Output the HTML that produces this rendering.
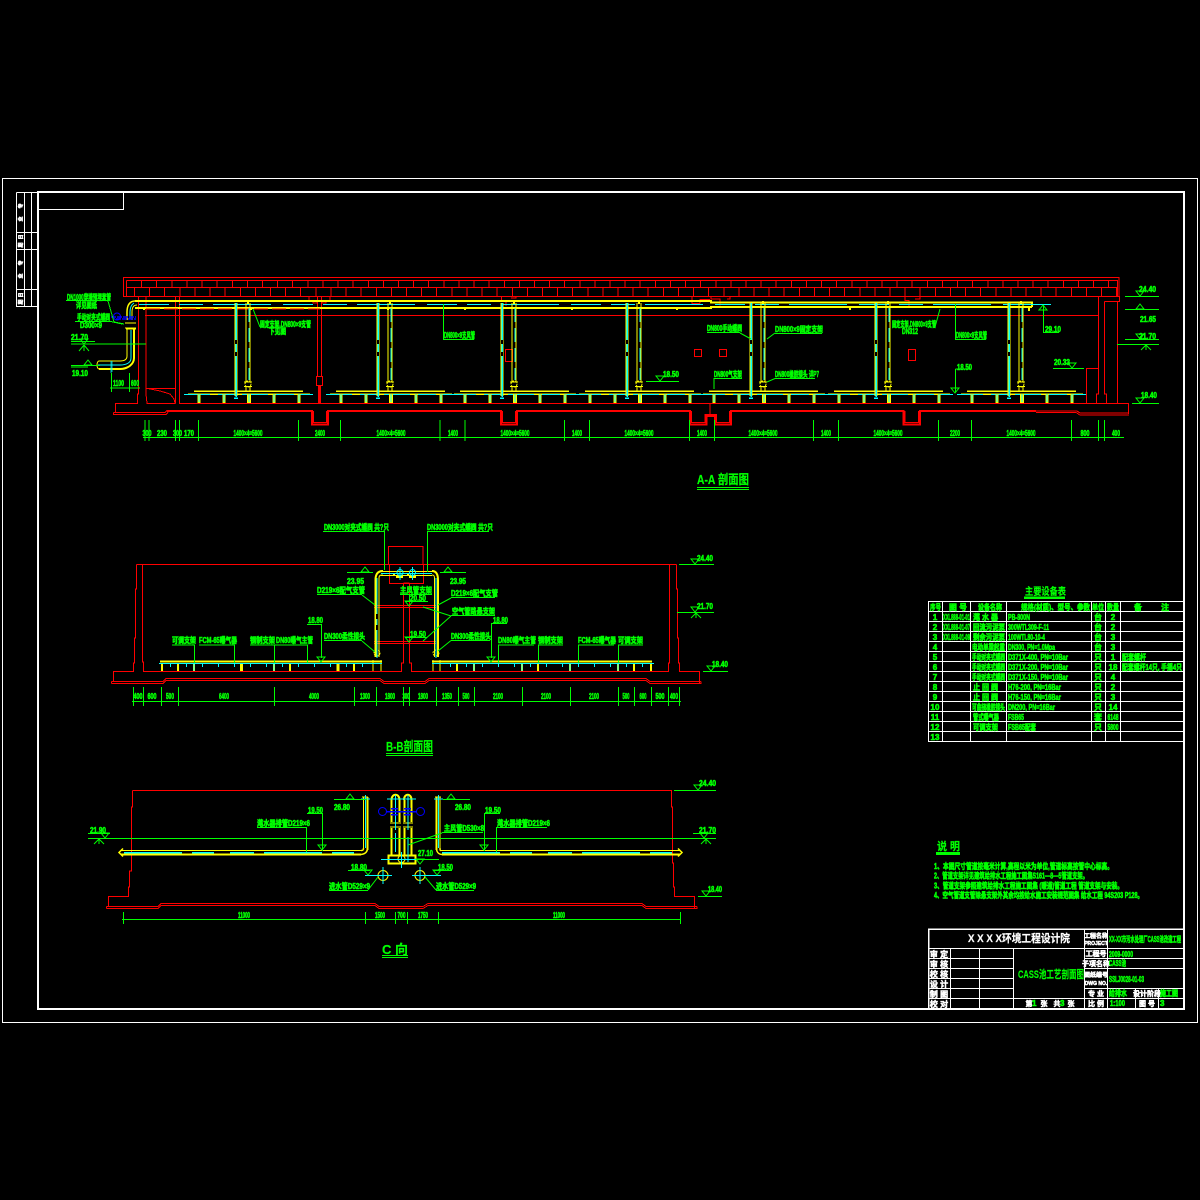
<!DOCTYPE html>
<html><head><meta charset="utf-8"><title>CASS池工艺剖面图</title>
<style>
html,body{margin:0;padding:0;background:#000;width:1200px;height:1200px;overflow:hidden}
svg{display:block}
.l{fill:none;shape-rendering:crispEdges}
.r{stroke:#f00}.y{stroke:#ff0}.c{stroke:#0ff}.g{stroke:#0f0}.w{stroke:#fff}.b{stroke:#00f}
.a{fill:none}
text{font-family:"Liberation Sans","Noto Sans CJK SC",sans-serif;font-weight:700}
.t text{fill:#0f0;stroke:#0f0;stroke-width:.6;font-size:8px}
.m text{text-anchor:middle}
.wt text{fill:#fff;stroke:#fff;stroke-width:.5;font-size:7px;text-anchor:middle}
</style></head><body>
<svg width="1200" height="1200" viewBox="0 0 1200 1200" xmlns="http://www.w3.org/2000/svg">
<defs>
<path id="td" d="M-4-5H4L0 0Z" fill="none" stroke="#0f0"/>
<path id="tu" d="M-4 0H4L0-5Z" fill="none" stroke="#0f0"/>
<g id="bay">
<path class="l y" stroke-width="1.5" d="M0 391H109M-6 394.3H116"/>
<path class="l c" d="M-10 394.5H119" stroke-dasharray="26 8 18 6"/>
<g class="l">
<path class="y" stroke-width="3" d="M5 394V403M30 394V403M80 394V403M105 394V403"/>
<path class="y" stroke-width="4" d="M55 394V403"/>
<path class="c" d="M5 394V402M30 394V402M55 394V402M80 394V402M105 394V402"/>
<path class="y" stroke-width="3" d="M42 303V396"/>
<path class="c" stroke-width="1.5" d="M42 303V397M40 398H44"/>
<path class="y" d="M52 303V382M56 303V382M52 387V391M56 387V391"/>
<path class="y" stroke-width="2" d="M54 301V304"/>
<path class="c" d="M55 308V380" stroke-dasharray="14 6"/>
</g>
<circle cx="54" cy="384" r="3" fill="none" stroke="#ff0" stroke-dasharray="2 1"/>
<path class="l y" d="M50 382H58M50 386.500H58"/>
<path class="l" stroke="#000" stroke-width="2" d="M42 340V344M42 352V356"/>
</g>
</defs>

<!-- frame -->
<g class="l w">
<rect x="2.500" y="178.500" width="1195" height="844"/>
<rect x="38" y="192" width="1146" height="817" stroke-width="2"/>
<path d="M38 209.500H123.500V192"/>
<path d="M16.500 192.500H38M16.500 192.500V306.500H38M24.500 192.500V306.500M31.500 192.500V306.500M16.500 232.500H38M16.500 249.500H38M16.500 289.500H38"/>
</g>
<g class="wt">
<text transform="translate(22.500,206) rotate(-90)" style="font-size:5px">专</text>
<text transform="translate(22.500,219) rotate(-90)" style="font-size:5px">业</text>
<text transform="translate(22.500,237) rotate(-90)" style="font-size:5px">日</text>
<text transform="translate(22.500,245) rotate(-90)" style="font-size:5px">期</text>
<text transform="translate(22.500,263) rotate(-90)" style="font-size:5px">专</text>
<text transform="translate(22.500,276) rotate(-90)" style="font-size:5px">业</text>
<text transform="translate(22.500,295) rotate(-90)" style="font-size:5px">日</text>
<text transform="translate(22.500,302) rotate(-90)" style="font-size:5px">期</text>
</g>

<!-- A-A roof -->
<g class="l r">
<rect x="123.500" y="277.500" width="995.500" height="19"/>
<path d="M126.500 280.500H1117.500V296M126.500 280.500V296M126.500 287.500H1117.500"/>
<path d="M126 284H1117" stroke-width="7" stroke-dasharray="1 14.110"/>
<path d="M134 292H1117" stroke-width="8" stroke-dasharray="1 14.110"/>
<!-- structure -->
<path d="M145 315.500H1098"/>
<path d="M138.500 296V394H137.500V403.500H115.500V412"/>
<path d="M146 296V388.500M146 388.500V394L147 403.500H175.500M146 388.500H175.500M175.500 297V403.500M179.500 297V403.500H1128.500V414"/>
<path d="M148 388.500L160 391 170 394 174 399 175 403" />
<path d="M317.500 297V376M321.500 297V376"/>
<rect x="316.500" y="376.500" width="6" height="9"/>
<path d="M319.500 385V403" stroke-width="3"/>
<path d="M309 296V300.500H313V303H317V300.500H322V303H326V300.500H330V296"/>
<path d="M501.500 296V300.500H506V306M516 296V298H511"/>
<path d="M692 296V303.500H700M700 303.500V299.500H710M711 296V299H720V305.500M730 296V299H727"/>
<path d="M905 296V300.500H909V306M920 296V299H915"/>
<path d="M1098.500 296V394H1096.500V403M1104.500 301.500V394H1106.500V403M1117.500 301.500V403M1104.500 301.500H1119.500V296"/>
<path d="M1086.500 403V368.500H1098"/>
<rect x="505.500" y="349.500" width="7" height="12"/>
<rect x="694.500" y="349.500" width="7" height="7"/>
<rect x="719.500" y="349.500" width="7" height="7"/>
<rect x="908.500" y="349.500" width="7" height="11"/>
<!-- floor -->
<path d="M113.500 412.500H165L167 410.500M113.500 412.500V414.500H166L168 412.500" />
<path stroke-width="2" d="M167 411H312V424.500H328V411H501V424.500H517V411H690V424.500H706.500V416H715V424.500H731V411H903.500V424.500H920V411H1036"/>
<path d="M313.500 411V422.500H326.500V411M502.500 411V422.500H515.500V411M691.500 411V422.500H705V414.500H716.500V422.500H729.500V411M905 411V422.500H918.500V411M710 403.500V414.500"/>
<path d="M1036 412.500H1076L1080 415H1129M1036 411H1077L1080 413H1129"/>
</g>

<!-- A-A main pipes -->
<g class="l">
<path class="y" stroke-width="2" d="M135 301H711V302.500H1032V307M135 308H711V307H1032"/>
<path class="c" d="M139 304.500H1050" stroke-dasharray="30 10 24 10 58 12"/>
<path class="r" stroke-width="1" d="M146 309H320" stroke-dasharray="14 4"/>
<path class="y" stroke-width="2" d="M144 307.500V310M251 307V310M388 307V310M465 307V310M572 307V310M677 307V310M850 307V310M1029 307V311"/>
<path class="c" d="M1028 304.500H1051"/>
</g>
<use href="#bay" x="194"/><use href="#bay" x="336"/><use href="#bay" x="460"/><use href="#bay" x="585"/><use href="#bay" x="709"/><use href="#bay" x="834"/><use href="#bay" x="967"/>

<!-- inlet pipe -->
<g class="a" stroke-linejoin="round">
<path d="M135 301C130 301 127 305 127 312V320" stroke="#ff0" stroke-width="1.500"/>
<path d="M137 305C133 305 132 308 132 312V320" stroke="#ff0" stroke-width="1"/>
<path d="M134 303C131 305 130 308 130 312V319" stroke="#0ff"/>
<path d="M127 329V356C127 360 124 361 120 361H99" stroke="#ff0" stroke-width="1"/>
<path d="M134 329V358C134 364 128 369 120 369H99" stroke="#ff0" stroke-width="2"/>
<path d="M131 330V358C131 363 126 365 120 365H98" stroke="#0ff"/>
<path d="M97 365A2 4 0 0 0 99 369M97 365A2 4 0 0 1 99 361" stroke="#ff0"/>
<path d="M125 323H136M125 328H136M126 329H136" stroke="#ff0"/>
<path d="M111 317H136M116 319H136" stroke="#00f" stroke-width="1.500" stroke-dasharray="5 1"/>
<circle cx="117" cy="316.500" r="3.500" stroke="#00f"/>
<path d="M112 361V372M111 361V373" stroke="#0ff" stroke-width=".7"/>
</g>

<!-- A-A green -->
<g class="l g">
<path d="M110 388H140M111.500 373V392M129.500 373V392"/>
<path d="M71 344H146M71 341.500H95M71 365.500H100M71 367H88"/>
<path d="M66 300.500H108M75 321.500H111"/>
<path d="M108 301L114 322L124 324M111 321.500L122 324"/>
<path d="M143 437.500H1124"/>
<path d="M145 420V441M149 420V441M175.500 420V441M179.500 420V441M198.500 420V441M298.500 420V441M340.500 420V441M440 420V441M465 420V441M564.500 420V441M589.500 420V441M689.500 420V441M714.500 420V441M813.500 420V441M838.500 420V441M938.500 420V441M971.500 420V441M1071.500 420V441M1098.500 420V441M1104.500 420V441"/>
<path d="M443.500 304V339.500H474"/>
<path d="M707 332.500H740M775 333.500H822M646 381.500H679M714 389V378.500H742M775 378.500H815M955.500 304V339.500H986M955.500 369H971M955.500 369V392M1043.500 305V332.500H1059M1053 368.500H1084"/>
<path d="M1125 296.500H1159M1125 309.500H1159M1125 339.500H1159M1117 344.500H1159M1132 403.500H1159"/>
</g>
<g class="a" stroke="#0f0">
<path d="M253 309L260 327"/><path d="M740 333L751 339"/><path d="M775 333L767 339"/><path d="M775 378.500L767 382"/><path d="M940 309L935 327"/>
<path d="M84 345L79 351M84 345L89 351M84 345V351"/><path d="M1146 345L1141 350M1146 345L1151 350M1146 345V350"/>
</g>
<use href="#td" x="84" y="344"/><use href="#tu" x="88" y="365"/><use href="#td" x="660" y="381"/><use href="#td" x="955" y="393"/><use href="#tu" x="1043" y="310"/><use href="#td" x="1072" y="368"/><use href="#td" x="1140" y="296"/><use href="#tu" x="1140" y="309"/><use href="#td" x="1140" y="339"/><use href="#td" x="1140" y="403"/>
<g class="t">
<text x="67" y="300" textLength="44" lengthAdjust="spacingAndGlyphs">DN1000穿墙预埋套管</text>
<text x="76" y="308" textLength="21" lengthAdjust="spacingAndGlyphs">详见图纸</text>
<text x="77" y="320" textLength="33" lengthAdjust="spacingAndGlyphs">手动对夹式蝶阀</text>
<text x="80" y="328" textLength="22" lengthAdjust="spacingAndGlyphs">D300×9</text>
<text x="71" y="340" textLength="17" lengthAdjust="spacingAndGlyphs">21.70</text>
<text x="72" y="376" textLength="16" lengthAdjust="spacingAndGlyphs">19.10</text>
<text x="113" y="386" textLength="11" lengthAdjust="spacingAndGlyphs">1100</text>
<text x="131" y="386" textLength="8" lengthAdjust="spacingAndGlyphs">600</text>
<text x="260" y="327" textLength="51" lengthAdjust="spacingAndGlyphs">固定支架,DN800×9支管</text>
<text x="269" y="334" textLength="17" lengthAdjust="spacingAndGlyphs">下见图</text>
<text x="444" y="338" textLength="31" lengthAdjust="spacingAndGlyphs">DN800×9支风管</text>
<text x="707" y="331" textLength="35" lengthAdjust="spacingAndGlyphs">DN800手动蝶阀</text>
<text x="775" y="332" textLength="48" lengthAdjust="spacingAndGlyphs">DN800×9固定支架</text>
<text x="663" y="377" textLength="16" lengthAdjust="spacingAndGlyphs">18.50</text>
<text x="714" y="377" textLength="28" lengthAdjust="spacingAndGlyphs">DN800气支架</text>
<text x="775" y="377" textLength="44" lengthAdjust="spacingAndGlyphs">DN800橡胶接头 详P7</text>
<text x="892" y="327" textLength="44" lengthAdjust="spacingAndGlyphs">固定支架,DN800×9支管</text>
<text x="902" y="334" textLength="16" lengthAdjust="spacingAndGlyphs">DN312</text>
<text x="956" y="338" textLength="31" lengthAdjust="spacingAndGlyphs">DN800×9支风管</text>
<text x="957" y="370" textLength="15" lengthAdjust="spacingAndGlyphs">18.50</text>
<text x="1045" y="332" textLength="16" lengthAdjust="spacingAndGlyphs">29.10</text>
<text x="1054" y="365" textLength="16" lengthAdjust="spacingAndGlyphs">20.33</text>
<text x="1139" y="292" textLength="17" lengthAdjust="spacingAndGlyphs">24.40</text>
<text x="1140" y="322" textLength="16" lengthAdjust="spacingAndGlyphs">21.65</text>
<text x="1139" y="339" textLength="17" lengthAdjust="spacingAndGlyphs">21.70</text>
<text x="1141" y="398" textLength="16" lengthAdjust="spacingAndGlyphs">18.40</text>
</g>
<g class="t m">
<text x="147" y="436" textLength="9" lengthAdjust="spacingAndGlyphs">300</text>
<text x="162" y="436" textLength="10" lengthAdjust="spacingAndGlyphs">230</text>
<text x="177.500" y="436" textLength="9" lengthAdjust="spacingAndGlyphs">300</text>
<text x="189" y="436" textLength="10" lengthAdjust="spacingAndGlyphs">170</text>
<text x="248" y="436" textLength="29" lengthAdjust="spacingAndGlyphs">1400×4=5600</text>
<text x="320" y="436" textLength="10" lengthAdjust="spacingAndGlyphs">2400</text>
<text x="391" y="436" textLength="29" lengthAdjust="spacingAndGlyphs">1400×4=5600</text>
<text x="453" y="436" textLength="10" lengthAdjust="spacingAndGlyphs">1400</text>
<text x="515" y="436" textLength="29" lengthAdjust="spacingAndGlyphs">1400×4=5600</text>
<text x="577" y="436" textLength="10" lengthAdjust="spacingAndGlyphs">1400</text>
<text x="639" y="436" textLength="29" lengthAdjust="spacingAndGlyphs">1400×4=5600</text>
<text x="702" y="436" textLength="10" lengthAdjust="spacingAndGlyphs">1400</text>
<text x="763" y="436" textLength="29" lengthAdjust="spacingAndGlyphs">1400×4=5600</text>
<text x="826" y="436" textLength="10" lengthAdjust="spacingAndGlyphs">1400</text>
<text x="888" y="436" textLength="29" lengthAdjust="spacingAndGlyphs">1400×4=5600</text>
<text x="955" y="436" textLength="10" lengthAdjust="spacingAndGlyphs">2200</text>
<text x="1021" y="436" textLength="29" lengthAdjust="spacingAndGlyphs">1400×4=5600</text>
<text x="1085" y="436" textLength="9" lengthAdjust="spacingAndGlyphs">800</text>
<text x="1116" y="436" textLength="8" lengthAdjust="spacingAndGlyphs">400</text>
</g>
<g class="t">
<text x="697" y="484" style="font-size:13px;stroke-width:.2" textLength="52" lengthAdjust="spacingAndGlyphs">A-A 剖面图</text>
<text x="386" y="751" style="font-size:13px;stroke-width:.2" textLength="47" lengthAdjust="spacingAndGlyphs">B-B剖面图</text>
<text x="382" y="954" style="font-size:13px;stroke-width:.2" textLength="26" lengthAdjust="spacingAndGlyphs">C 向</text>
</g>
<path class="l g" d="M697 487.500H749M697 489.500H749M386 753.500H433M386 755.500H433M382 955.500H408M382 957.500H408"/>

<!-- B-B structure -->
<g class="l r">
<path d="M136.500 564.500H676.500M136.500 564.500V589H135.500V638H134.500V663H133.500V671.500H113.500V681"/>
<path d="M142.500 564.500V662H143.500V671.500H401.500V663H403.500V583M409.500 583V663H411.500V671.500H668.500V663H669.500V564.500M676.500 564.500V589H677.500V638H678.500V663H679.500V671.500H699.500V683"/>
<path d="M111.500 681.500H163L166 678.500H380L384 681.500H425L429 678.500H646L650 681.500H701M111.500 683.500H163L166 680.500H380L384 683.500H425L429 680.500H646L650 683.500H701V681.500M111.500 681.500V683.500"/>
<path d="M388.500 565V546.500H423V565M389.500 565V583.500H423.500V565M374 605.500H436M374 607.500H436M374 641.500H436M374 643.500H436M403.500 583H409.500"/>
</g>
<g class="l y">
<path stroke-width="2" d="M375.500 580V657M438 580V657"/>
<path d="M379 578V657M434.500 578V657M381 571.500H432M381 575.500H432"/>
<path stroke-width="2" d="M160 661.500H382M432 661.500H652"/>
<path stroke-width="2" d="M162 663V671M178 663V671M194 663V671M274 663V671M290 663V671M354 663V671M457 663V671M474 663V671M522 663V671M538 663V671M570 663V671M618 663V671M634 663V671M651 663V671"/>
<path stroke-width="3" d="M241.500 663V671M338 663V671"/>
<path d="M373 660V671M381 660V671M433 660V671M440 660V671"/>
<path stroke-width="2" d="M394 573V576M408 573V576M396 577H403M409 577H416"/>
</g>
<g class="a"><path d="M375.500 580C375.500 574 378 571 383 571" stroke="#ff0" stroke-width="2"/><path d="M379 578C379 575 381 575 383 575" stroke="#ff0"/><path d="M432 571C436 571 438 574 438 580" stroke="#ff0" stroke-width="2"/><path d="M432 575C434 575 434.500 576 434.500 578" stroke="#ff0"/>
<circle cx="377" cy="653" r="3" stroke="#ff0" stroke-dasharray="2 1"/><circle cx="436" cy="653" r="3" stroke="#ff0" stroke-dasharray="2 1"/>
<circle cx="400" cy="572.500" r="3" stroke="#0ff"/><circle cx="412.500" cy="572.500" r="3" stroke="#0ff"/></g>
<g class="l c">
<path d="M159 663.500H382M432 663.500H654"/>
<path d="M377 578V658M436 578V658M400 567V580M412.500 567V580M381 573.500H432"/>
<path d="M170.500 663V667M186.500 663V667M202.500 663V667M218.500 663V667M234.500 663V667M250.500 663V667M266.500 663V667M282.500 663V667M298.500 663V667M314.500 663V667M330.500 663V667M346.500 663V667M362.500 663V667M450.500 663V667M466.500 663V667M482.500 663V667M498.500 663V667M514.500 663V667M530.500 663V667M546.500 663V667M562.500 663V667M578.500 663V667M594.500 663V667M610.500 663V667M626.500 663V667M642.500 663V667"/>
<path d="M194 663V671M274 663V671M474 663V671M522 663V671M570 663V671M618 663V671"/>
</g>
<path class="l" stroke="#000" stroke-width="2" d="M377 614V619M377 625V630"/>
<!-- B-B green -->
<g class="l g">
<path d="M323 531.500H384.500V570M427.500 572V531.500H489"/>
<path d="M347 572.500H373M317 594.500H362M307 624.500H321.500V658M324 640.500H362"/>
<path d="M172 645H194.500V663M199 645H234.500V663M250 645H307.500V663M274.500 645V663"/>
<path d="M440 572.500H466M451 597.500H495M451 615.500H495M491.500 658V623.500H507M451 640.500H490"/>
<path d="M498.500 663V645H534M538.500 663V645H563M578.500 663V645H614M618.500 663V645H643"/>
<path d="M400 594.500H432M405 601.500H428M405 637.500H427M409.500 594V602"/>
<path d="M679 564.500H714M677 612.500H714M703 671.500H728"/>
<path d="M132 701.500H681M133.500 687V706M143.500 687V706M161.500 687V706M178.500 687V706M274.500 687V706M354.500 687V706M376.500 687V706M403.500 687V706M409.500 687V706M436.500 687V706M458.500 687V706M474.500 687V706M522.500 687V706M570.500 687V706M618.500 687V706M634.500 687V706M651.500 687V706M668.500 687V706M679.500 687V706"/>
</g>
<g class="a" stroke="#0f0"><path d="M362 595L375 605M362 641L375 652M451 598L438 605M451 616L423 641M451 616L423 607M451 640.500L438 651M696 613L691 618M696 613L701 618M696 613V618"/></g>
<use href="#tu" x="365" y="572"/><use href="#td" x="321" y="662"/><use href="#tu" x="448" y="572"/><use href="#td" x="491" y="662"/><use href="#td" x="409" y="606"/><use href="#td" x="409" y="642"/><use href="#td" x="695" y="564"/><use href="#td" x="695" y="612"/><use href="#td" x="711" y="671"/>
<g class="t">
<text x="324" y="530" textLength="65" lengthAdjust="spacingAndGlyphs">DN3000对夹式蝶阀 共?只</text>
<text x="427" y="530" textLength="66" lengthAdjust="spacingAndGlyphs">DN3000对夹式蝶阀 共?只</text>
<text x="347" y="584" textLength="17" lengthAdjust="spacingAndGlyphs">23.95</text>
<text x="317" y="593" textLength="48" lengthAdjust="spacingAndGlyphs">D219×6配气支管</text>
<text x="308" y="623" textLength="15" lengthAdjust="spacingAndGlyphs">18.80</text>
<text x="324" y="639" textLength="41" lengthAdjust="spacingAndGlyphs">DN300柔性接头</text>
<text x="172" y="643" textLength="24" lengthAdjust="spacingAndGlyphs">可调支架</text>
<text x="199" y="643" textLength="38" lengthAdjust="spacingAndGlyphs">FCM-65曝气器</text>
<text x="250" y="643" textLength="25" lengthAdjust="spacingAndGlyphs">钢制支架</text>
<text x="276" y="643" textLength="37" lengthAdjust="spacingAndGlyphs">DN80曝气主管</text>
<text x="450" y="584" textLength="16" lengthAdjust="spacingAndGlyphs">23.95</text>
<text x="451" y="596" textLength="47" lengthAdjust="spacingAndGlyphs">D219×6配气支管</text>
<text x="452" y="614" textLength="43" lengthAdjust="spacingAndGlyphs">空气管路悬支架</text>
<text x="493" y="623" textLength="15" lengthAdjust="spacingAndGlyphs">18.80</text>
<text x="451" y="639" textLength="40" lengthAdjust="spacingAndGlyphs">DN300柔性接头</text>
<text x="498" y="643" textLength="38" lengthAdjust="spacingAndGlyphs">DN80曝气主管</text>
<text x="538" y="643" textLength="25" lengthAdjust="spacingAndGlyphs">钢制支架</text>
<text x="578" y="643" textLength="38" lengthAdjust="spacingAndGlyphs">FCM-65曝气器</text>
<text x="618" y="643" textLength="25" lengthAdjust="spacingAndGlyphs">可调支架</text>
<text x="400" y="593" textLength="32" lengthAdjust="spacingAndGlyphs">主风管支架</text>
<text x="410" y="601" textLength="16" lengthAdjust="spacingAndGlyphs">20.50</text>
<text x="410" y="637" textLength="16" lengthAdjust="spacingAndGlyphs">19.50</text>
<text x="697" y="561" textLength="16" lengthAdjust="spacingAndGlyphs">24.40</text>
<text x="697" y="609" textLength="16" lengthAdjust="spacingAndGlyphs">21.70</text>
<text x="712" y="667" textLength="16" lengthAdjust="spacingAndGlyphs">18.40</text>
</g>
<g class="t m">
<text x="138" y="699" textLength="9" lengthAdjust="spacingAndGlyphs">400</text>
<text x="152" y="699" textLength="9" lengthAdjust="spacingAndGlyphs">600</text>
<text x="170" y="699" textLength="8" lengthAdjust="spacingAndGlyphs">500</text>
<text x="224" y="699" textLength="10" lengthAdjust="spacingAndGlyphs">6400</text>
<text x="314" y="699" textLength="10" lengthAdjust="spacingAndGlyphs">4000</text>
<text x="365" y="699" textLength="10" lengthAdjust="spacingAndGlyphs">1300</text>
<text x="390" y="699" textLength="10" lengthAdjust="spacingAndGlyphs">1800</text>
<text x="406" y="699" textLength="7" lengthAdjust="spacingAndGlyphs">300</text>
<text x="423" y="699" textLength="10" lengthAdjust="spacingAndGlyphs">1800</text>
<text x="447" y="699" textLength="10" lengthAdjust="spacingAndGlyphs">1350</text>
<text x="466" y="699" textLength="7" lengthAdjust="spacingAndGlyphs">500</text>
<text x="498" y="699" textLength="10" lengthAdjust="spacingAndGlyphs">2100</text>
<text x="546" y="699" textLength="10" lengthAdjust="spacingAndGlyphs">2100</text>
<text x="594" y="699" textLength="10" lengthAdjust="spacingAndGlyphs">2100</text>
<text x="626" y="699" textLength="7" lengthAdjust="spacingAndGlyphs">500</text>
<text x="643" y="699" textLength="7" lengthAdjust="spacingAndGlyphs">600</text>
<text x="660" y="699" textLength="9" lengthAdjust="spacingAndGlyphs">500</text>
<text x="674" y="699" textLength="8" lengthAdjust="spacingAndGlyphs">400</text>
</g>

<!-- C structure -->
<g class="l r">
<path d="M132.500 790.500H671.500V807H672.500V863H673.500V887H674.500V896.500H694.500V908.500"/>
<path d="M132.500 790.500V807H131.500V871H129.500V887H128.500V896.500H108.500V907"/>
<path d="M106.500 906.500H158L161 903.500H375L379 906.500H423L428 903.500H642L646 906.500H697M106.500 908.500H158L161 905.500H375L379 908.500H423L428 905.500H642L646 908.500H697V906.500M106.500 906.500V908.500"/>
</g>
<g class="l y">
<path stroke-width="2" d="M121 854.500H361M442 854.500H680"/>
<path d="M121 850.500H361M441 850.500H680"/>
<path stroke-width="2" d="M367.500 797V850M436.500 797V850M391.500 800V822M399.500 800V822M404.500 800V822M411.500 800V822M391.500 828V856M399.500 828V856M404.500 828V856M411.500 828V856"/>
<path d="M363.500 797V848M440 797V848M362 797H368M435 797H441M390 823H401M403 823H413M390 827H401M403 827H413"/>
<rect x="388.500" y="855.500" width="27" height="8" stroke-width="2"/>
</g>
<g class="a" stroke="#ff0">
<path d="M361 854.500C365 854 367.500 852 367.500 848M361 850.500C363 850.500 363.500 850 363.500 848M442 854.500C438 854 436.500 852 436.500 848M441 850.500C440 850.500 440 850 440 848" stroke-width="1.500"/>
<path d="M391.500 800C391.500 793 399.500 793 399.500 800M404 800C404 793 411.500 793 411.500 800" stroke-width="2"/>
<circle cx="383" cy="875.500" r="5"/><circle cx="420" cy="875.500" r="5"/><circle cx="401.500" cy="859" r="3.500"/>
<path d="M123 848.500L119 852.500 123 856.500M678 848.500L682 852.500 678 856.500" stroke-width="1.500"/>
</g>
<g class="l c">
<path d="M124 852.500H361M442 852.500H678" stroke-dasharray="58 10 22 16 24 10" stroke-width="1.500"/>
<path d="M365.500 795V848M438.500 795V848M361 799H370M434 799H443"/>
<path d="M387 799H402M401 799H416M395.500 795V830M408 795V830M395.500 833V852M408 837V862M381 859.500H423M401.500 852V868"/>
<path d="M365 875.500H392M383 867V884M412 875.500H441M420 867V884"/>
</g>
<g class="l b" stroke-width="1.500">
<path d="M386 811.500H417M391 808.500H398M404 808.500H411M391 814.500H398M404 814.500H411"/>
</g>
<g class="a" stroke="#00f"><circle cx="382.500" cy="811.500" r="4"/><circle cx="420.500" cy="811.500" r="4"/></g>
<g class="l g">
<path d="M88 838.500H716"/>
<path d="M88 833.500H110M334 799.500H367M307 813.500H322.500V851M257 827.500H306.500V852M348 870.500H370M329 890.500H368"/>
<path d="M443 799.500H470M484.500 851V813.500H500M496.500 852V827.500H547M442 832.500H483M416 859.500H439M433 870.500H452M436 890.500H474"/>
<path d="M674 790.500H716M693 833.500H716M698 896.500H722"/>
<path d="M122 919.500H681M123.500 912V924M365.500 912V924M395.500 912V924M407.500 912V924M438.500 912V924M680.500 912V924"/>
</g>
<g class="a" stroke="#0f0"><path d="M368 890L378 877M436 890L425 877M442 833L408 845M99 839L94 844M99 839L104 844M99 839V844M706 839L701 844M706 839L711 844M706 839V844"/></g>
<use href="#td" x="105" y="838"/><use href="#tu" x="350" y="799"/><use href="#td" x="322" y="850"/><use href="#td" x="368" y="875"/><use href="#tu" x="451" y="799"/><use href="#td" x="484" y="850"/><use href="#td" x="420" y="864"/><use href="#td" x="437" y="875"/><use href="#td" x="698" y="790"/><use href="#td" x="704" y="838"/><use href="#td" x="706" y="896"/>
<g class="t">
<text x="90" y="833" textLength="16" lengthAdjust="spacingAndGlyphs">21.90</text>
<text x="334" y="810" textLength="16" lengthAdjust="spacingAndGlyphs">26.80</text>
<text x="308" y="813" textLength="15" lengthAdjust="spacingAndGlyphs">19.50</text>
<text x="257" y="826" textLength="53" lengthAdjust="spacingAndGlyphs">滗水器排管D219×6</text>
<text x="351" y="870" textLength="16" lengthAdjust="spacingAndGlyphs">18.80</text>
<text x="329" y="889" textLength="41" lengthAdjust="spacingAndGlyphs">进水管D529×9</text>
<text x="455" y="810" textLength="16" lengthAdjust="spacingAndGlyphs">26.80</text>
<text x="485" y="813" textLength="16" lengthAdjust="spacingAndGlyphs">19.50</text>
<text x="497" y="826" textLength="53" lengthAdjust="spacingAndGlyphs">滗水器排管D219×6</text>
<text x="444" y="831" textLength="40" lengthAdjust="spacingAndGlyphs">主风管D530×8</text>
<text x="418" y="856" textLength="15" lengthAdjust="spacingAndGlyphs">27.10</text>
<text x="438" y="870" textLength="15" lengthAdjust="spacingAndGlyphs">18.50</text>
<text x="436" y="889" textLength="40" lengthAdjust="spacingAndGlyphs">进水管D529×9</text>
<text x="699" y="786" textLength="17" lengthAdjust="spacingAndGlyphs">24.40</text>
<text x="699" y="833" textLength="17" lengthAdjust="spacingAndGlyphs">21.70</text>
<text x="708" y="892" textLength="14" lengthAdjust="spacingAndGlyphs">18.40</text>
</g>
<g class="t m">
<text x="244" y="918" textLength="12" lengthAdjust="spacingAndGlyphs">11000</text>
<text x="380" y="918" textLength="10" lengthAdjust="spacingAndGlyphs">1500</text>
<text x="401.500" y="918" textLength="8" lengthAdjust="spacingAndGlyphs">700</text>
<text x="423" y="918" textLength="10" lengthAdjust="spacingAndGlyphs">1750</text>
<text x="559" y="918" textLength="12" lengthAdjust="spacingAndGlyphs">11000</text>
</g>

<!-- table -->
<g class="l w">
<rect x="928.500" y="601.500" width="255" height="140"/>
<path d="M942.500 601.500V741.500M970.500 601.500V741.500M1006.500 601.500V741.500M1091.500 601.500V741.500M1105.500 601.500V741.500M1120.500 601.500V741.500"/>
<path d="M928.500 611.500H1183M928.500 621.500H1183M928.500 631.500H1183M928.500 641.500H1183M928.500 651.500H1183M928.500 661.500H1183M928.500 671.500H1183M928.500 681.500H1183M928.500 691.500H1183M928.500 701.500H1183M928.500 711.500H1183M928.500 721.500H1183M928.500 731.500H1183"/>
</g>
<path class="l g" stroke-width="2.500" d="M1024 597.500H1065"/>
<g class="t">
<text x="1025" y="595" style="font-size:10px;stroke-width:.2" textLength="41" lengthAdjust="spacingAndGlyphs">主要设备表</text>
<text x="930" y="610" textLength="11" lengthAdjust="spacingAndGlyphs">序号</text><text x="949" y="610" textLength="18" lengthAdjust="spacingAndGlyphs">图 号</text><text x="978" y="610" textLength="24" lengthAdjust="spacingAndGlyphs">设备名称</text><text x="1021" y="610" textLength="69" lengthAdjust="spacingAndGlyphs">规格(材质)、型号、参数</text><text x="1092" y="610" textLength="12" lengthAdjust="spacingAndGlyphs">单位</text><text x="1107" y="610" textLength="12" lengthAdjust="spacingAndGlyphs">数量</text><text x="1134" y="610">备</text><text x="1161" y="610">注</text>
<text x="943" y="620" textLength="27" lengthAdjust="spacingAndGlyphs">XXL888-01-01</text><text x="973" y="620" textLength="25" lengthAdjust="spacingAndGlyphs">滗 水 器</text><text x="1008" y="620" textLength="22" lengthAdjust="spacingAndGlyphs">PB-800N</text>
<text x="943" y="630" textLength="27" lengthAdjust="spacingAndGlyphs">XXL888-01-07</text><text x="973" y="630" textLength="32" lengthAdjust="spacingAndGlyphs">回流污泥泵</text><text x="1008" y="630" textLength="41" lengthAdjust="spacingAndGlyphs">300WTL309-F-11</text>
<text x="943" y="640" textLength="27" lengthAdjust="spacingAndGlyphs">XXL888-01-09</text><text x="973" y="640" textLength="32" lengthAdjust="spacingAndGlyphs">剩余污泥泵</text><text x="1008" y="640" textLength="37" lengthAdjust="spacingAndGlyphs">100WTL80-10-4</text>
<text x="972" y="650" textLength="33" lengthAdjust="spacingAndGlyphs">电动单梁起重</text><text x="1008" y="650" textLength="47" lengthAdjust="spacingAndGlyphs">DN300, PN=1.0Mpa</text>
<text x="972" y="660" textLength="33" lengthAdjust="spacingAndGlyphs">手动对夹式蝶阀</text><text x="1008" y="660" textLength="60" lengthAdjust="spacingAndGlyphs">D371X-400, PN=10Bar</text>
<text x="972" y="670" textLength="33" lengthAdjust="spacingAndGlyphs">手动对夹式蝶阀</text><text x="1008" y="670" textLength="60" lengthAdjust="spacingAndGlyphs">D371X-200, PN=10Bar</text>
<text x="972" y="680" textLength="33" lengthAdjust="spacingAndGlyphs">手动对夹式蝶阀</text><text x="1008" y="680" textLength="60" lengthAdjust="spacingAndGlyphs">D371X-150, PN=10Bar</text>
<text x="973" y="690" textLength="25" lengthAdjust="spacingAndGlyphs">止 回 阀</text><text x="1008" y="690" textLength="53" lengthAdjust="spacingAndGlyphs">H76-200, PN=16Bar</text>
<text x="973" y="700" textLength="25" lengthAdjust="spacingAndGlyphs">止 回 阀</text><text x="1008" y="700" textLength="53" lengthAdjust="spacingAndGlyphs">H76-150, PN=16Bar</text>
<text x="972" y="710" textLength="33" lengthAdjust="spacingAndGlyphs">可曲挠橡胶接头</text><text x="1008" y="710" textLength="47" lengthAdjust="spacingAndGlyphs">DN200, PN=16Bar</text>
<text x="973" y="720" textLength="26" lengthAdjust="spacingAndGlyphs">管式曝气器</text><text x="1008" y="720" textLength="16" lengthAdjust="spacingAndGlyphs">FSB65</text>
<text x="973" y="730" textLength="25" lengthAdjust="spacingAndGlyphs">可调支架</text><text x="1008" y="730" textLength="28" lengthAdjust="spacingAndGlyphs">FSB65配套</text>
<text x="1122" y="660" textLength="24" lengthAdjust="spacingAndGlyphs">配套螺杆</text>
<text x="1122" y="670" textLength="60" lengthAdjust="spacingAndGlyphs">配套螺杆14只, 手摇4只</text>
</g>
<g class="t m">
<text x="935" y="620">1</text><text x="935" y="630">2</text><text x="935" y="640">3</text><text x="935" y="650">4</text><text x="935" y="660">5</text><text x="935" y="670">6</text><text x="935" y="680">7</text><text x="935" y="690">8</text><text x="935" y="700">9</text><text x="935" y="710">10</text><text x="935" y="720">11</text><text x="935" y="730">12</text><text x="935" y="740">13</text>
<text x="1098" y="620">台</text><text x="1098" y="630">台</text><text x="1098" y="640">台</text><text x="1098" y="650">台</text><text x="1098" y="660">只</text><text x="1098" y="670">只</text><text x="1098" y="680">只</text><text x="1098" y="690">只</text><text x="1098" y="700">只</text><text x="1098" y="710">只</text><text x="1098" y="720">套</text><text x="1098" y="730">只</text>
<text x="1113" y="620">2</text><text x="1113" y="630">2</text><text x="1113" y="640">3</text><text x="1113" y="650">3</text><text x="1113" y="660">1</text><text x="1113" y="670">18</text><text x="1113" y="680">4</text><text x="1113" y="690">2</text><text x="1113" y="700">3</text><text x="1113" y="710">14</text><text x="1113" y="720" textLength="11" lengthAdjust="spacingAndGlyphs">6148</text><text x="1113" y="730" textLength="11" lengthAdjust="spacingAndGlyphs">5800</text>
</g>

<!-- notes -->
<path class="l g" stroke-width="3" d="M936 853.500H960"/>
<g class="t">
<text x="937" y="850" style="font-size:11px;stroke-width:.2" textLength="23" lengthAdjust="spacingAndGlyphs">说 明</text>
<text x="934" y="869" textLength="179" lengthAdjust="spacingAndGlyphs">1、本图尺寸管道按毫米计算,高程以米为单位,管道标高按管中心标高。</text>
<text x="934" y="878.500" textLength="154" lengthAdjust="spacingAndGlyphs">2、管道支架详见建筑给排水工程施工图集S161—8—5管道支架。</text>
<text x="934" y="888.500" textLength="189" lengthAdjust="spacingAndGlyphs">3、管道支架参照建筑给排水工程施工图集 (暖通)管道工程 管道支架与安装。</text>
<text x="934" y="898" textLength="209" lengthAdjust="spacingAndGlyphs">4、空气管道支管除悬支架外其余均按给水施工安装规范图集 给水工程 94S203 P128。</text>
</g>

<!-- title block -->
<g class="l w">
<rect x="928.500" y="929" width="255" height="79.500" stroke-width="1.500"/>
<path d="M928.500 948.500H1183M1084.500 929V1008.500M1107.500 929V1008.500"/>
<path d="M928.500 958.500H1014M928.500 968.500H1014M928.500 978.500H1014M928.500 988.500H1014M928.500 998.500H1084.500"/>
<path d="M950.500 948.500V1008.500M979.500 948.500V1008.500M1013.500 948.500V1008.500"/>
<path d="M1084.500 958.500H1183M1084.500 968.500H1183M1084.500 988.500H1183M1084.500 998.500H1183M1135.500 988.500V1008.500M1158.500 988.500V1008.500"/>
</g>
<g class="wt">
<text x="1019" y="942" style="font-size:11px;stroke-width:.2" textLength="102" lengthAdjust="spacingAndGlyphs">X X X X环境工程设计院</text>
<text x="939" y="957" style="font-size:8px">审 定</text><text x="939" y="967" style="font-size:8px">审 核</text><text x="939" y="977" style="font-size:8px">校 核</text><text x="939" y="987" style="font-size:8px">设 计</text><text x="939" y="997" style="font-size:8px">制 图</text><text x="939" y="1007" style="font-size:8px">校 对</text>
<text x="1096" y="938" style="font-size:6px">工程名称</text><text x="1096" y="945" style="font-size:5px">PROJECT</text>
<text x="1096" y="956" style="font-size:7px">工程号</text><text x="1096" y="966" style="font-size:7px">子项名称</text>
<text x="1096" y="977" style="font-size:6px">图纸编号</text><text x="1096" y="985" style="font-size:5px">DWG NO.</text>
<text x="1096" y="996" style="font-size:7px">专 业</text><text x="1096" y="1006" style="font-size:7px">比 例</text>
<text x="1147" y="996" style="font-size:7px">设计阶段</text><text x="1147" y="1006" style="font-size:7px">图 号</text>
<text x="1029" y="1006" style="font-size:7px">第</text><text x="1044" y="1006" style="font-size:7px">张</text><text x="1057" y="1006" style="font-size:7px">共</text><text x="1071" y="1006" style="font-size:7px">张</text>
</g>
<g class="t">
<text x="1018" y="978" style="font-size:11px;stroke-width:.15" textLength="66" lengthAdjust="spacingAndGlyphs">CASS池工艺剖面图</text>
<text x="1109" y="942" textLength="72" lengthAdjust="spacingAndGlyphs">XX-XX市污水处理厂CASS池改造工程</text>
<text x="1109" y="957" textLength="24" lengthAdjust="spacingAndGlyphs">2009-0000</text>
<text x="1109" y="966" textLength="17" lengthAdjust="spacingAndGlyphs">CASS池</text>
<text x="1109" y="982" textLength="35" lengthAdjust="spacingAndGlyphs">SSLJ0028-01-03</text>
<text x="1109" y="996" textLength="18" lengthAdjust="spacingAndGlyphs">给排水</text>
<text x="1160" y="996" textLength="18" lengthAdjust="spacingAndGlyphs">施工图</text>
<text x="1110" y="1006" textLength="15" lengthAdjust="spacingAndGlyphs">1:100</text>
<text x="1160" y="1006">3</text>
<text x="1032" y="1006">1</text><text x="1060" y="1006">3</text>
</g>
</svg>
</body></html>
